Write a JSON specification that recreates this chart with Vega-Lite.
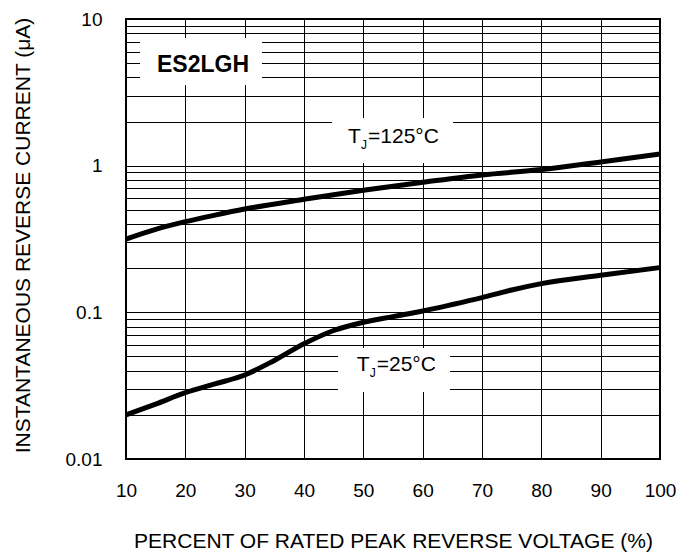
{
  "$schema": "https://vega.github.io/schema/vega-lite/v6.json",
  "width": 534,
  "height": 440,
  "autosize": "none",
  "padding": {"left": 126, "top": 19, "right": 21, "bottom": 99},
  "background": "white",
  "config": {
    "font": "Liberation Sans",
    "view": {"stroke": "black", "strokeWidth": 2},
    "axis": {
      "domain": false,
      "ticks": false,
      "tickSize": 0,
      "grid": true,
      "gridColor": "#000000",
      "gridOpacity": 1,
      "gridWidth": 1,
      "labelFlush": false,
      "labelColor": "#000000",
      "labelFont": "Liberation Sans",
      "labelFontSize": 19,
      "titleColor": "#000000",
      "titleFont": "Liberation Sans",
      "titleFontSize": 21,
      "titleFontWeight": "normal"
    }
  },
  "datasets": {
    "curves": [
      {"tj": "125", "pct": 10, "current": 0.316},
      {"tj": "125", "pct": 15, "current": 0.368},
      {"tj": "125", "pct": 20, "current": 0.415},
      {"tj": "125", "pct": 25, "current": 0.46},
      {"tj": "125", "pct": 30, "current": 0.506},
      {"tj": "125", "pct": 40, "current": 0.59},
      {"tj": "125", "pct": 50, "current": 0.68},
      {"tj": "125", "pct": 60, "current": 0.77},
      {"tj": "125", "pct": 70, "current": 0.865},
      {"tj": "125", "pct": 80, "current": 0.94},
      {"tj": "125", "pct": 90, "current": 1.06},
      {"tj": "125", "pct": 100, "current": 1.2},
      {"tj": "25", "pct": 10, "current": 0.02},
      {"tj": "25", "pct": 15, "current": 0.0237},
      {"tj": "25", "pct": 20, "current": 0.0283},
      {"tj": "25", "pct": 25, "current": 0.0325},
      {"tj": "25", "pct": 30, "current": 0.0374},
      {"tj": "25", "pct": 35, "current": 0.047},
      {"tj": "25", "pct": 40, "current": 0.061},
      {"tj": "25", "pct": 45, "current": 0.0752},
      {"tj": "25", "pct": 50, "current": 0.0855},
      {"tj": "25", "pct": 55, "current": 0.0935},
      {"tj": "25", "pct": 60, "current": 0.102},
      {"tj": "25", "pct": 65, "current": 0.113},
      {"tj": "25", "pct": 70, "current": 0.126},
      {"tj": "25", "pct": 75, "current": 0.142},
      {"tj": "25", "pct": 80, "current": 0.157},
      {"tj": "25", "pct": 90, "current": 0.179},
      {"tj": "25", "pct": 100, "current": 0.202}
    ],
    "boxes": [
      {"x1": 12.36, "x2": 32.92, "y1": 7.42, "y2": 3.55},
      {"x1": 44.72, "x2": 65.11, "y1": 2.11, "y2": 1.043},
      {"x1": 45.73, "x2": 64.61, "y1": 0.0571, "y2": 0.02863}
    ],
    "device": [
      {"x": 22.98, "y": 4.86, "label": "ES2LGH"}
    ],
    "tlabels": [
      {"x": 47.42, "y": 1.58, "rest": "=125°C"},
      {"x": 48.88, "y": 0.04375, "rest": "=25°C"}
    ]
  },
  "layer": [
    {
      "data": {"name": "curves"},
      "mark": {"type": "line", "color": "black", "strokeWidth": 5, "interpolate": "monotone", "strokeCap": "butt"},
      "encoding": {
        "x": {
          "field": "pct", "type": "quantitative",
          "title": "PERCENT OF RATED PEAK REVERSE VOLTAGE (%)",
          "scale": {"domain": [10, 100], "nice": false, "zero": false},
          "axis": {
            "values": [10, 20, 30, 40, 50, 60, 70, 80, 90, 100],
            "labelPadding": 22,
            "labelOverlap": false,
            "titleY": 82,
            "titleBaseline": "middle"
          }
        },
        "y": {
          "field": "current", "type": "quantitative",
          "title": "INSTANTANEOUS REVERSE CURRENT (μA)",
          "scale": {"type": "log", "domain": [0.01, 10], "nice": false},
          "axis": {
            "values": [0.01, 0.02, 0.03, 0.04, 0.05, 0.06, 0.07, 0.08, 0.09, 0.1, 0.2, 0.3, 0.4, 0.5, 0.6, 0.7, 0.8, 0.9, 1, 2, 3, 4, 5, 6, 7, 8, 9, 10],
            "labelExpr": "datum.value == 0.01 ? '0.01' : datum.value == 0.1 ? '0.1' : datum.value == 1 ? '1' : datum.value == 10 ? '10' : ''",
            "labelOverlap": false,
            "labelPadding": 24,
            "labelBaseline": "middle",
            "titleX": -103,
            "titleY": 216,
            "titleAngle": -90,
            "titleAlign": "center",
            "titleBaseline": "middle"
          }
        },
        "detail": {"field": "tj"}
      }
    },
    {
      "data": {"name": "boxes"},
      "mark": {"type": "rect", "color": "white", "opacity": 1},
      "encoding": {
        "x": {"field": "x1", "type": "quantitative", "title": "PERCENT OF RATED PEAK REVERSE VOLTAGE (%)"},
        "x2": {"field": "x2"},
        "y": {"field": "y1", "type": "quantitative", "title": "INSTANTANEOUS REVERSE CURRENT (μA)"},
        "y2": {"field": "y2"}
      }
    },
    {
      "data": {"name": "device"},
      "mark": {"type": "text", "fontSize": 23, "fontWeight": "bold", "align": "center", "baseline": "middle", "color": "black"},
      "encoding": {
        "x": {"field": "x", "type": "quantitative", "title": "PERCENT OF RATED PEAK REVERSE VOLTAGE (%)"},
        "y": {"field": "y", "type": "quantitative", "title": "INSTANTANEOUS REVERSE CURRENT (μA)"},
        "text": {"field": "label"}
      }
    },
    {
      "data": {"name": "tlabels"},
      "mark": {"type": "text", "text": "T", "fontSize": 21, "align": "left", "baseline": "middle", "color": "black"},
      "encoding": {
        "x": {"field": "x", "type": "quantitative", "title": "PERCENT OF RATED PEAK REVERSE VOLTAGE (%)"},
        "y": {"field": "y", "type": "quantitative", "title": "INSTANTANEOUS REVERSE CURRENT (μA)"}
      }
    },
    {
      "data": {"name": "tlabels"},
      "mark": {"type": "text", "text": "J", "fontSize": 12, "align": "left", "baseline": "middle", "dx": 13, "dy": 8, "color": "black"},
      "encoding": {
        "x": {"field": "x", "type": "quantitative", "title": "PERCENT OF RATED PEAK REVERSE VOLTAGE (%)"},
        "y": {"field": "y", "type": "quantitative", "title": "INSTANTANEOUS REVERSE CURRENT (μA)"}
      }
    },
    {
      "data": {"name": "tlabels"},
      "mark": {"type": "text", "fontSize": 21, "align": "left", "baseline": "middle", "dx": 20, "color": "black"},
      "encoding": {
        "x": {"field": "x", "type": "quantitative", "title": "PERCENT OF RATED PEAK REVERSE VOLTAGE (%)"},
        "y": {"field": "y", "type": "quantitative", "title": "INSTANTANEOUS REVERSE CURRENT (μA)"},
        "text": {"field": "rest"}
      }
    }
  ]
}
